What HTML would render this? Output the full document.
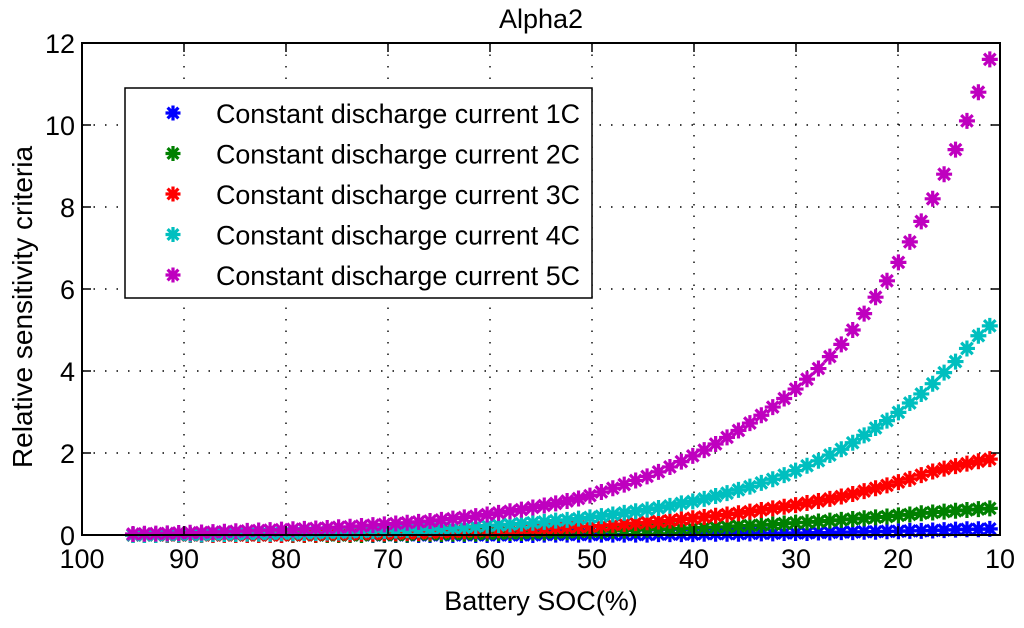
<!DOCTYPE html>
<html><head><meta charset="utf-8"><style>
html,body{margin:0;padding:0;background:#fff;}
svg{display:block;font-family:"Liberation Sans",Arial,sans-serif;}
</style></head><body>
<svg id="chart" width="1024" height="628" viewBox="0 0 1024 628" xmlns="http://www.w3.org/2000/svg">
<rect x="0" y="0" width="1024" height="628" fill="#fff"/>
<g id="grid"></g>
<g id="series"></g>
<rect x="82" y="43" width="918" height="492" fill="none" stroke="#000" stroke-width="2"/>
<g id="ticks"></g>
<text x="541" y="28" font-size="27" text-anchor="middle">Alpha2</text>
<text x="541" y="610" font-size="27" text-anchor="middle">Battery SOC(%)</text>
<text transform="translate(32,307) rotate(-90)" font-size="28" text-anchor="middle">Relative sensitivity criteria</text>
<g id="legend"></g>
</svg>
<script>
const xTicks=[100,90,80,70,60,50,40,30,20,10];
const yTicks=[0,2,4,6,8,10,12];
const soc=[95,93.88,92.76,91.64,90.52,89.4,88.28,87.16,86.04,84.92,83.8,82.68,81.56,80.44,79.32,78.2,77.08,75.96,74.84,73.72,72.6,71.48,70.36,69.24,68.12,67,65.88,64.76,63.64,62.52,61.4,60.28,59.16,58.04,56.92,55.8,54.68,53.56,52.44,51.32,50.2,49.08,47.96,46.84,45.72,44.6,43.48,42.36,41.24,40.12,39,37.88,36.76,35.64,34.52,33.4,32.28,31.16,30.04,28.92,27.8,26.68,25.56,24.44,23.32,22.2,21.08,19.96,18.84,17.72,16.6,15.48,14.36,13.24,12.12,11];
const c1=[0,0,0,0,0,0,0,0,0,0,0,0,0,0,0,0,0,0,0,0,0,0,0,0,0,0,0,0,0,0,0,0,0,0,0,0,0.01,0.01,0.01,0.01,0.01,0.01,0.01,0.01,0.01,0.01,0.02,0.02,0.02,0.02,0.03,0.03,0.03,0.03,0.04,0.04,0.04,0.05,0.05,0.05,0.06,0.06,0.07,0.07,0.08,0.08,0.09,0.09,0.10,0.10,0.11,0.12,0.13,0.14,0.14,0.15];
const c2=[0,0,0,0,0,0,0,0,0,0,0,0,0,0,0,0,0,0,0,0,0,0.01,0.01,0.01,0.01,0.02,0.02,0.02,0.03,0.03,0.03,0.04,0.04,0.05,0.05,0.06,0.06,0.07,0.07,0.08,0.09,0.09,0.10,0.11,0.12,0.13,0.14,0.15,0.16,0.17,0.18,0.19,0.20,0.22,0.23,0.24,0.26,0.28,0.30,0.31,0.33,0.35,0.37,0.39,0.41,0.43,0.45,0.48,0.50,0.53,0.55,0.57,0.59,0.61,0.63,0.65];
const c3=[0,0,0,0,0,0,0,0,0,0,0,0,0,0,0.01,0.01,0.01,0.02,0.02,0.02,0.03,0.03,0.04,0.04,0.05,0.05,0.06,0.07,0.08,0.09,0.10,0.11,0.12,0.13,0.14,0.15,0.16,0.17,0.19,0.20,0.21,0.23,0.25,0.27,0.29,0.31,0.33,0.35,0.38,0.41,0.44,0.47,0.50,0.53,0.57,0.61,0.65,0.69,0.73,0.78,0.83,0.88,0.94,1.0,1.07,1.14,1.21,1.29,1.37,1.46,1.55,1.62,1.68,1.74,1.80,1.85];
const c4=[0,0,0,0.01,0.01,0.01,0.01,0.02,0.02,0.02,0.03,0.03,0.03,0.04,0.04,0.05,0.05,0.06,0.06,0.07,0.08,0.09,0.10,0.11,0.12,0.13,0.14,0.16,0.17,0.19,0.21,0.23,0.24,0.26,0.28,0.30,0.32,0.35,0.37,0.40,0.43,0.46,0.50,0.54,0.58,0.62,0.66,0.71,0.77,0.82,0.88,0.95,1.02,1.10,1.18,1.27,1.36,1.46,1.57,1.69,1.81,1.95,2.09,2.25,2.43,2.61,2.79,2.99,3.22,3.44,3.69,3.96,4.23,4.55,4.86,5.1];
const c5=[0.025,0.03,0.035,0.04,0.05,0.055,0.06,0.07,0.08,0.09,0.10,0.11,0.12,0.13,0.14,0.15,0.16,0.17,0.19,0.20,0.22,0.24,0.26,0.28,0.30,0.32,0.34,0.37,0.40,0.43,0.46,0.50,0.54,0.58,0.62,0.67,0.72,0.77,0.83,0.89,0.96,1.05,1.14,1.23,1.33,1.43,1.54,1.66,1.79,1.93,2.07,2.22,2.38,2.55,2.73,2.92,3.12,3.33,3.56,3.80,4.06,4.35,4.65,5.0,5.4,5.8,6.2,6.65,7.15,7.65,8.2,8.8,9.4,10.1,10.8,11.6];
const seriesNames=["Constant discharge current 1C","Constant discharge current 2C","Constant discharge current 3C","Constant discharge current 4C","Constant discharge current 5C"];
const seriesColors=["#0000ff","#008000","#ff0000","#00bfbf","#bf00bf"];
const allSeries=[c1,c2,c3,c4,c5];

const L=82,R=1000,T=43,B=535;
const xs=v=>L+(100-v)/(100-10)*(R-L);
const ys=v=>B-v/12*(B-T);
const NS="http://www.w3.org/2000/svg";
function mk(tag,attrs,parent){const e=document.createElementNS(NS,tag);for(const k in attrs)e.setAttribute(k,attrs[k]);parent.appendChild(e);return e;}
function star(g,cx,cy,r,color,sw){
  return mk('path',{d:`M${cx-r},${cy}H${cx+r}M${cx},${cy-r}V${cy+r}M${cx-r*0.72},${cy-r*0.72}L${cx+r*0.72},${cy+r*0.72}M${cx-r*0.72},${cy+r*0.72}L${cx+r*0.72},${cy-r*0.72}`,stroke:color,'stroke-width':sw,fill:'none'},g);
}
const grid=document.getElementById('grid'),ticks=document.getElementById('ticks');
xTicks.forEach(t=>{
  const x=xs(t);
  if(t!==100&&t!==10){const l=mk('line',{x1:x,x2:x,y1:T,y2:B,stroke:'#000','stroke-width':1.4,'stroke-dasharray':'1.5 10'},grid);
  
  }
  const tk=mk('path',{d:`M${x},${B}v-9M${x},${T}v9`,stroke:'#000','stroke-width':1.5},ticks);
  
  
  const tx=mk('text',{x:x,y:B+33,'font-size':27,'text-anchor':'middle'},ticks);tx.textContent=t;
  
  
});
yTicks.forEach(t=>{
  const y=ys(t);
  if(t!==0&&t!==12){const l=mk('line',{x1:L,x2:R,y1:y,y2:y,stroke:'#000','stroke-width':1.4,'stroke-dasharray':'1.5 10'},grid);
  
  }
  const tk=mk('path',{d:`M${L},${y}h9M${R},${y}h-9`,stroke:'#000','stroke-width':1.5},ticks);
  
  
  const tx=mk('text',{x:L-7,y:y+10,'font-size':27,'text-anchor':'end'},ticks);tx.textContent=t;
  
  
});
const sg=document.getElementById('series');
allSeries.forEach((vals,si)=>{
  const g=mk('g',{},sg);
  
  
  vals.forEach((v,i)=>{
    const m=star(g,xs(soc[i]),ys(v),8,seriesColors[si],3.2);
    
    
  });
});
const lg=document.getElementById('legend');
const box=mk('rect',{x:125,y:88,width:467,height:210,fill:'#fff',stroke:'#000','stroke-width':1.5},lg);


seriesNames.forEach((n,i)=>{
  const cy=113+i*40.5;
  const e=mk('g',{},lg);
  
  
  star(e,173,cy,7.5,seriesColors[i],3.2);
  const tx=mk('text',{x:216,y:cy+10,'font-size':27,textLength:364,lengthAdjust:'spacingAndGlyphs'},e);tx.textContent=n;
});
</script>
</body></html>
